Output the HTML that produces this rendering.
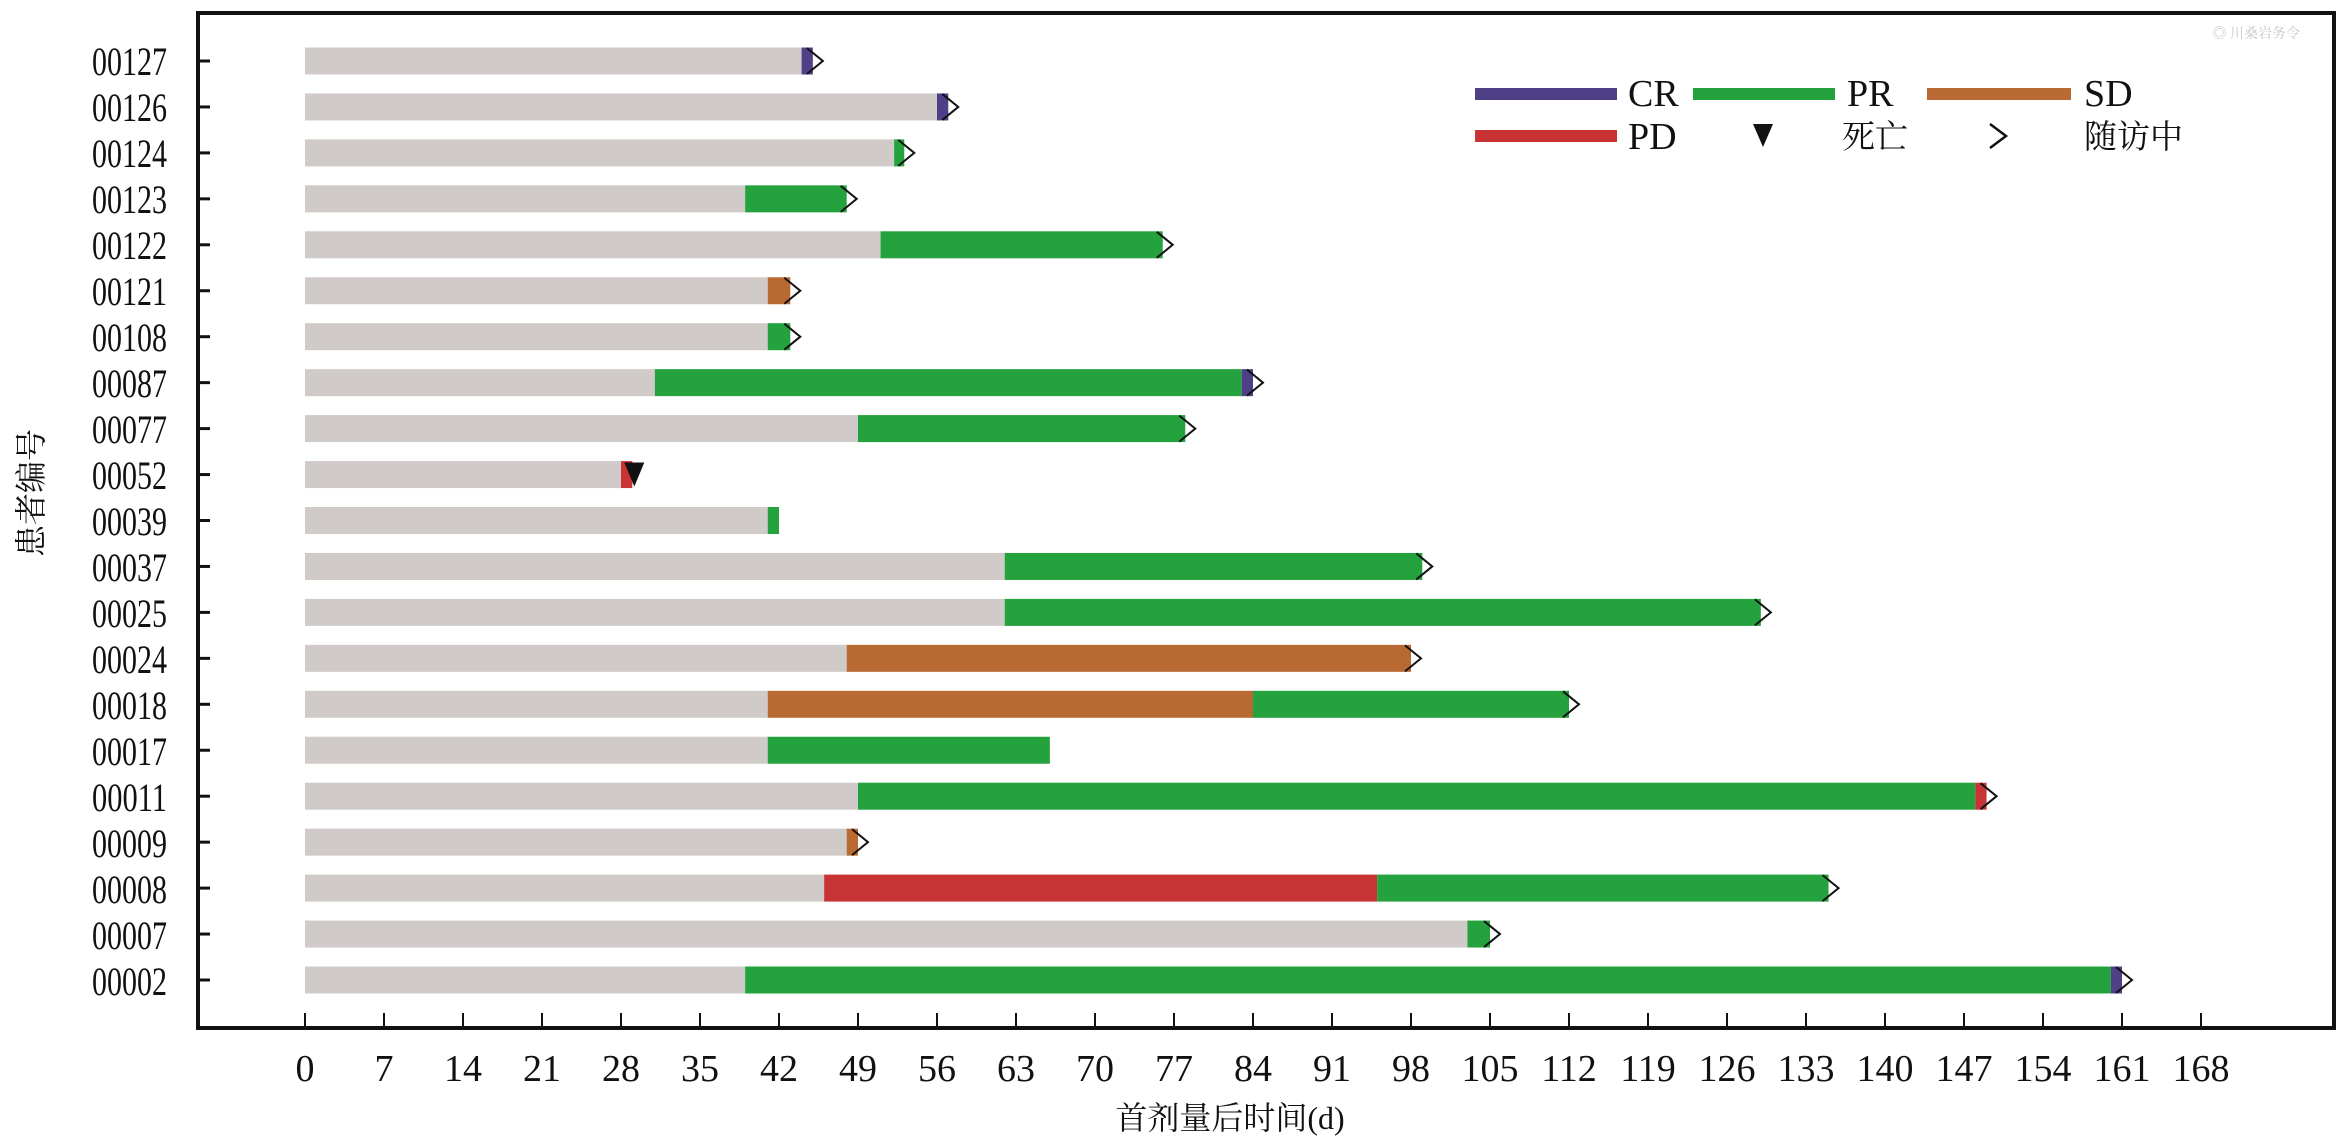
<!DOCTYPE html>
<html><head><meta charset="utf-8"><style>
html,body{margin:0;padding:0;background:#fff;}
svg{display:block;}
text{font-family:"Liberation Serif","Noto Serif CJK SC",serif;fill:#111;}
.cjk{font-family:"Liberation Serif","Noto Serif CJK SC",serif;}
</style></head><body>
<svg id="s" width="2343" height="1140" viewBox="0 0 2343 1140" xmlns="http://www.w3.org/2000/svg">
<rect x="0" y="0" width="2343" height="1140" fill="#fff"/>
<g id="bars"></g>
<rect x="198" y="13" width="2136" height="1015" fill="none" stroke="#111" stroke-width="4"/>
<g id="ticks" stroke="#111" stroke-width="3"></g>
<g font-size="40" text-anchor="end">
<text x="167" y="75" textLength="75" lengthAdjust="spacingAndGlyphs">00127</text>
<text x="167" y="121" textLength="75" lengthAdjust="spacingAndGlyphs">00126</text>
<text x="167" y="167" textLength="75" lengthAdjust="spacingAndGlyphs">00124</text>
<text x="167" y="213" textLength="75" lengthAdjust="spacingAndGlyphs">00123</text>
<text x="167" y="259" textLength="75" lengthAdjust="spacingAndGlyphs">00122</text>
<text x="167" y="305" textLength="75" lengthAdjust="spacingAndGlyphs">00121</text>
<text x="167" y="351" textLength="75" lengthAdjust="spacingAndGlyphs">00108</text>
<text x="167" y="397" textLength="75" lengthAdjust="spacingAndGlyphs">00087</text>
<text x="167" y="443" textLength="75" lengthAdjust="spacingAndGlyphs">00077</text>
<text x="167" y="489" textLength="75" lengthAdjust="spacingAndGlyphs">00052</text>
<text x="167" y="535" textLength="75" lengthAdjust="spacingAndGlyphs">00039</text>
<text x="167" y="581" textLength="75" lengthAdjust="spacingAndGlyphs">00037</text>
<text x="167" y="627" textLength="75" lengthAdjust="spacingAndGlyphs">00025</text>
<text x="167" y="673" textLength="75" lengthAdjust="spacingAndGlyphs">00024</text>
<text x="167" y="719" textLength="75" lengthAdjust="spacingAndGlyphs">00018</text>
<text x="167" y="765" textLength="75" lengthAdjust="spacingAndGlyphs">00017</text>
<text x="167" y="811" textLength="75" lengthAdjust="spacingAndGlyphs">00011</text>
<text x="167" y="857" textLength="75" lengthAdjust="spacingAndGlyphs">00009</text>
<text x="167" y="903" textLength="75" lengthAdjust="spacingAndGlyphs">00008</text>
<text x="167" y="949" textLength="75" lengthAdjust="spacingAndGlyphs">00007</text>
<text x="167" y="995" textLength="75" lengthAdjust="spacingAndGlyphs">00002</text>
</g>
<g font-size="38" text-anchor="middle">
<text x="305" y="1081">0</text><text x="384" y="1081">7</text>
<text x="463" y="1081">14</text><text x="542" y="1081">21</text>
<text x="621" y="1081">28</text><text x="700" y="1081">35</text>
<text x="779" y="1081">42</text><text x="858" y="1081">49</text>
<text x="937" y="1081">56</text><text x="1016" y="1081">63</text>
<text x="1095" y="1081">70</text><text x="1174" y="1081">77</text>
<text x="1253" y="1081">84</text><text x="1332" y="1081">91</text>
<text x="1411" y="1081">98</text><text x="1490" y="1081">105</text>
<text x="1569" y="1081">112</text><text x="1648" y="1081">119</text>
<text x="1727" y="1081">126</text><text x="1806" y="1081">133</text>
<text x="1885" y="1081">140</text><text x="1964" y="1081">147</text>
<text x="2043" y="1081">154</text><text x="2122" y="1081">161</text>
<text x="2201" y="1081">168</text>
</g>
<text class="cjk" x="1230" y="1129" font-size="32" text-anchor="middle">首剂量后时间(d)</text>
<text class="cjk" x="0" y="0" font-size="32" text-anchor="middle" transform="translate(42,493) rotate(-90)">患者编号</text>
<!-- legend -->
<rect x="1475" y="88" width="142" height="12" fill="#4f3f86"/>
<rect x="1693" y="88" width="142" height="12" fill="#23a23e"/>
<rect x="1927" y="88" width="144" height="12" fill="#b96a32"/>
<rect x="1475" y="130" width="142" height="12" fill="#c83436"/>
<g font-size="38">
<text x="1628" y="106">CR</text>
<text x="1847" y="106">PR</text>
<text x="2084" y="106">SD</text>
<text x="1628" y="149">PD</text>
</g>
<polygon points="1753,124 1773,124 1763,147" fill="#111"/>
<text class="cjk" x="1842" y="148" font-size="33">死亡</text>
<polyline points="1990,124 2006,136 1990,148" fill="none" stroke="#111" stroke-width="2.5"/>
<text class="cjk" x="2084" y="148" font-size="33">随访中</text>
<text class="cjk" x="2300" y="38" font-size="14" style="fill:#c8c8c8" text-anchor="end">◎ 川桑岩务令</text>
</svg>
<script>
(function(){
var NS="http://www.w3.org/2000/svg";
var x0=305,k=(2201-305)/168,y0=61,dy=45.95,h=27;
var C={G:"#d0cbc8",CR:"#4f3f86",PR:"#23a23e",SD:"#b96a32",PD:"#c83436"};
var rows=[
[[44,"G"],[45,"CR"],"a"],
[[56,"G"],[57,"CR"],"a"],
[[52.2,"G"],[53.1,"PR"],"a"],
[[39,"G"],[48,"PR"],"a"],
[[51,"G"],[76,"PR"],"a"],
[[41,"G"],[43,"SD"],"a"],
[[41,"G"],[43,"PR"],"a"],
[[31,"G"],[83,"PR"],[84,"CR"],"a"],
[[49,"G"],[78,"PR"],"a"],
[[28,"G"],[29,"PD"],"d"],
[[41,"G"],[42,"PR"],""],
[[62,"G"],[99,"PR"],"a"],
[[62,"G"],[129,"PR"],"a"],
[[48,"G"],[98,"SD"],"a"],
[[41,"G"],[84,"SD"],[112,"PR"],"a"],
[[41,"G"],[66,"PR"],""],
[[49,"G"],[148,"PR"],[149,"PD"],"a"],
[[48,"G"],[49,"SD"],"a"],
[[46,"G"],[95,"PD"],[135,"PR"],"a"],
[[103,"G"],[105,"PR"],"a"],
[[39,"G"],[160,"PR"],[161,"CR"],"a"]
];
var g=document.getElementById("bars");
function el(n,a){var e=document.createElementNS(NS,n);for(var i in a)e.setAttribute(i,a[i]);g.appendChild(e);return e;}
rows.forEach(function(r,i){
  var yc=y0+i*dy,s=0;
  for(var j=0;j<r.length-1;j++){var e=r[j][0];
    el("rect",{x:x0+s*k,y:yc-h/2,width:(e-s)*k,height:h,fill:C[r[j][1]]});s=e;}
  var xe=x0+s*k,m=r[r.length-1];
  if(m=="a")el("polyline",{points:(xe-6)+","+(yc-13)+" "+(xe+10)+","+yc+" "+(xe-6)+","+(yc+13),fill:"none",stroke:"#111","stroke-width":2});
  if(m=="d")el("polygon",{points:(xe-8)+","+(yc-12)+" "+(xe+12)+","+(yc-12)+" "+(xe+2)+","+(yc+12),fill:"#111"});
});
var t=document.getElementById("ticks");
function ln(a){var e=document.createElementNS(NS,"line");for(var i in a)e.setAttribute(i,a[i]);t.appendChild(e);}
for(var i=0;i<21;i++){var y=y0+i*dy;ln({x1:198,y1:y,x2:210,y2:y});}
for(var d=0;d<=168;d+=7){var x=x0+d*k;ln({x1:x,y1:1028,x2:x,y2:1013,"stroke-width":2});}
})();
</script>
</body></html>
